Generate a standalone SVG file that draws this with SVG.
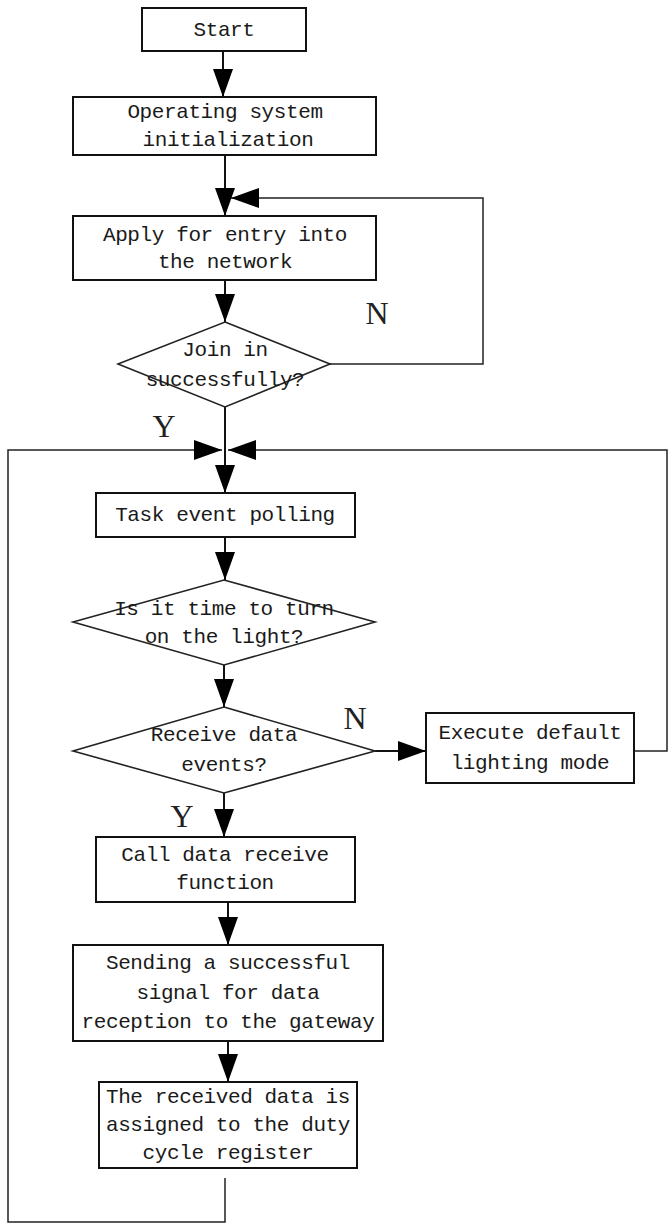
<svg xmlns="http://www.w3.org/2000/svg" width="668" height="1227" viewBox="0 0 668 1227">
<style>
.box{fill:#fff;stroke:#111;stroke-width:2}
.dia{fill:#fff;stroke:#222;stroke-width:1.6}
.t{font-family:"Liberation Mono",monospace;font-size:21px;letter-spacing:-0.4px;fill:#1a1a1a;text-anchor:middle}
.lbl{font-family:"Liberation Serif",serif;font-size:32px;fill:#222;text-anchor:middle}
.c{fill:none;stroke:#111;stroke-width:2}
.l{fill:none;stroke:#222;stroke-width:1.5}
</style>
<defs>
<marker id="ah" viewBox="0 0 28 20" refX="28" refY="10" markerWidth="28" markerHeight="20" markerUnits="userSpaceOnUse" orient="auto">
<path d="M0,0 L28,10 L0,20 z" fill="#000"/>
</marker>
</defs>
<rect width="668" height="1227" fill="#fff"/>
<g id="connectors">
<path class="c" d="M223,51 V97" marker-end="url(#ah)"/>
<path class="c" d="M225,155 V216" marker-end="url(#ah)"/>
<path class="l" d="M330,364 H483 V198 H231" marker-end="url(#ah)"/>
<path class="c" d="M225,280 V322" marker-end="url(#ah)"/>
<path class="c" d="M225,407 V493" marker-end="url(#ah)"/>
<path class="l" d="M225,1178 V1222 H8 V450 H222" marker-end="url(#ah)"/>
<path class="l" d="M634,751 H667 V450 H228" marker-end="url(#ah)"/>
<path class="c" d="M225,537 V580" marker-end="url(#ah)"/>
<path class="c" d="M224,665 V707" marker-end="url(#ah)"/>
<path class="c" d="M375,751 H426" marker-end="url(#ah)"/>
<path class="c" d="M224,793 V837" marker-end="url(#ah)"/>
<path class="c" d="M228,902 V945" marker-end="url(#ah)"/>
<path class="c" d="M228,1041 V1082" marker-end="url(#ah)"/>
<text class="lbl" x="377" y="324">N</text>
<text class="lbl" x="164" y="437">Y</text>
<text class="lbl" x="355" y="729">N</text>
<text class="lbl" x="182" y="827">Y</text>
</g>
<g id="start">
<rect class="box" x="142" y="8" width="164" height="43"/>
<text class="t" x="224" y="36">Start</text>
</g>
<g id="os-init">
<rect class="box" x="73" y="97" width="303" height="58"/>
<text class="t" x="225" y="118">Operating system</text>
<text class="t" x="228" y="146">initialization</text>
</g>
<g id="apply">
<rect class="box" x="73" y="216" width="303" height="64"/>
<text class="t" x="225" y="241">Apply for entry into</text>
<text class="t" x="225" y="268">the network</text>
</g>
<g id="join">
<polygon class="dia" points="225,322 330,364 225,407 118,364"/>
<text class="t" x="225" y="356">Join in</text>
<text class="t" x="225" y="386">successfully?</text>
</g>
<g id="task">
<rect class="box" x="96" y="493" width="259" height="44"/>
<text class="t" x="225" y="521">Task event polling</text>
</g>
<g id="time">
<polygon class="dia" points="224,580 375,622 224,665 73,622"/>
<text class="t" x="224" y="615">Is it time to turn</text>
<text class="t" x="224" y="643">on the light?</text>
</g>
<g id="receive">
<polygon class="dia" points="224,707 375,751 224,793 73,751"/>
<text class="t" x="224" y="741">Receive data</text>
<text class="t" x="224" y="771">events?</text>
</g>
<g id="default">
<rect class="box" x="426" y="713" width="208" height="70"/>
<text class="t" x="530" y="739">Execute default</text>
<text class="t" x="530" y="769">lighting mode</text>
</g>
<g id="call">
<rect class="box" x="96" y="837" width="259" height="65"/>
<text class="t" x="225" y="861">Call data receive</text>
<text class="t" x="225" y="889">function</text>
</g>
<g id="send">
<rect class="box" x="73" y="945" width="310" height="96"/>
<text class="t" x="228" y="969">Sending a successful</text>
<text class="t" x="228" y="999">signal for data</text>
<text class="t" x="228" y="1028">reception to the gateway</text>
</g>
<g id="assign">
<rect class="box" x="99" y="1082" width="258" height="86"/>
<text class="t" x="228" y="1103">The received data is</text>
<text class="t" x="228" y="1131">assigned to the duty</text>
<text class="t" x="228" y="1159">cycle register</text>
</g>
</svg>
